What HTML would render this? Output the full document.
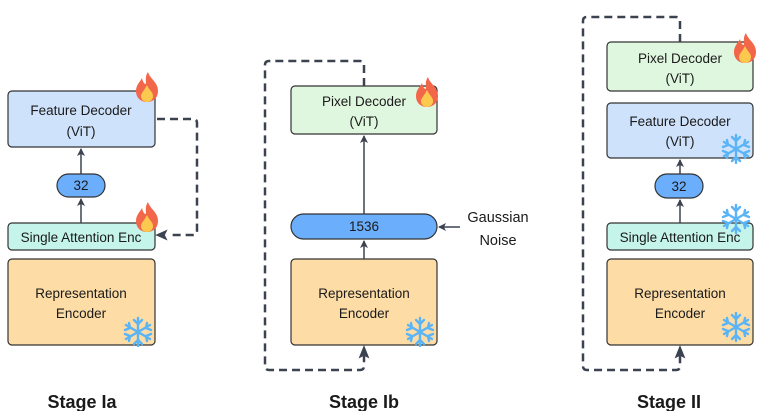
<!DOCTYPE html>
<html><head><meta charset="utf-8"><style>
body{margin:0;background:#fff}
svg{display:block}
text{font-family:"Liberation Sans",sans-serif;fill:#1a1a1a;font-size:13.5px;text-anchor:middle}
.b{stroke:#333;stroke-width:1.2}
.d{fill:none;stroke:#3c4350;stroke-width:2.5;stroke-dasharray:8 5}
.l{stroke:#3c4350;stroke-width:1.5;fill:none}
</style></head><body>
<svg width="767" height="411" viewBox="0 0 767 411">
<defs>
<marker id="a" markerWidth="8" markerHeight="8" refX="7" refY="4" orient="auto" markerUnits="userSpaceOnUse"><path d="M0,0 L8,4 L0,8 L2,4Z" fill="#3c4350"/></marker>
<g id="fire"><path d="M12,0 C14,7 22,10 22,19 C22,26 17,30 11,30 C5,30 0,26 0,19 C0,13 4,10 6,6 C7,10 8,12 10,12 C10,8 9,4 12,0Z" fill="#f2664a"/><path d="M11,13 C13,18 17,20 17,24 C17,28 14,30 11,30 C8,30 5,28 5,24 C5,21 8,19 11,13Z" fill="#fcc94e"/></g>
<g id="snow" stroke="#5ab4f5" stroke-width="2.4" stroke-linecap="round" fill="none"><path d="M16,2V30M4,9L28,23M4,23L28,9"/><path d="M12,4L16,8L20,4M12,28L16,24L20,28M3,14L8,12L7,7M29,18L24,20L25,25M3,18L8,20L7,25M29,14L24,12L25,7"/></g>
</defs>
<!-- Stage Ia -->
<rect class="b" x="8" y="91" width="147" height="56" rx="4" fill="#cfe2fb"/>
<text x="81" y="115">Feature Decoder</text><text x="81" y="136">(ViT)</text>
<rect class="b" x="57" y="174" width="48" height="23" rx="11.5" fill="#6aaefc"/><text x="81" y="190">32</text>
<rect class="b" x="8" y="223" width="147" height="27" rx="4" fill="#c5f4ea"/><text x="81" y="242">Single Attention Enc</text>
<rect class="b" x="8" y="259" width="147" height="86" rx="4" fill="#fddca5"/>
<text x="81" y="298">Representation</text><text x="81" y="318">Encoder</text>
<line class="l" x1="81" y1="174" x2="81" y2="149" marker-end="url(#a)"/>
<line class="l" x1="81" y1="223" x2="81" y2="199" marker-end="url(#a)"/>
<path class="d" d="M157,119 H193 Q197,119 197,123 V231 Q197,235 193,235 H170"/>
<path d="M157,235 L166,231 L164,235 L166,239Z" fill="#3c4350" stroke="#3c4350" stroke-width="1.5"/>
<use href="#fire" x="136" y="72"/><use href="#fire" x="136" y="202"/><use href="#snow" x="122" y="316"/>
<text x="82" y="408" style="font-weight:bold;font-size:18px">Stage Ia</text>
<!-- Stage Ib -->
<rect class="b" x="291" y="86" width="146" height="48" rx="4" fill="#e0f7df"/>
<text x="364" y="106">Pixel Decoder</text><text x="364" y="126">(ViT)</text>
<rect class="b" x="291" y="214" width="146" height="25" rx="12.5" fill="#6aaefc"/><text x="364" y="231">1536</text>
<rect class="b" x="291" y="259" width="146" height="86" rx="4" fill="#fddca5"/>
<text x="364" y="298">Representation</text><text x="364" y="318">Encoder</text>
<line class="l" x1="364" y1="214" x2="364" y2="136" marker-end="url(#a)"/>
<line class="l" x1="364" y1="259" x2="364" y2="241" marker-end="url(#a)"/>
<line class="l" x1="460" y1="227" x2="439" y2="227" marker-end="url(#a)"/>
<text x="498" y="222" style="font-size:14.5px">Gaussian</text><text x="498" y="245" style="font-size:14.5px">Noise</text>
<path class="d" d="M364,86 V65 Q364,61 360,61 H269 Q265,61 265,65 V366 Q265,370 269,370 H360 Q364,370 364,366 V356"/>
<path d="M364,347 L368,357 L364,355 L360,357Z" fill="#3c4350" stroke="#3c4350" stroke-width="1.5"/>
<use href="#fire" x="416" y="77"/><use href="#snow" x="404" y="316"/>
<text x="364" y="408" style="font-weight:bold;font-size:18px">Stage Ib</text>
<!-- Stage II -->
<rect class="b" x="607" y="42" width="146" height="49" rx="4" fill="#e0f7df"/>
<text x="680" y="63">Pixel Decoder</text><text x="680" y="83">(ViT)</text>
<rect class="b" x="607" y="103" width="146" height="55" rx="4" fill="#cfe2fb"/>
<text x="680" y="126">Feature Decoder</text><text x="680" y="146">(ViT)</text>
<rect class="b" x="655" y="174" width="48" height="24" rx="12" fill="#6aaefc"/><text x="679" y="191">32</text>
<rect class="b" x="607" y="223" width="146" height="27" rx="4" fill="#c5f4ea"/><text x="680" y="242">Single Attention Enc</text>
<rect class="b" x="607" y="259" width="146" height="86" rx="4" fill="#fddca5"/>
<text x="680" y="298">Representation</text><text x="680" y="318">Encoder</text>
<line class="l" x1="680" y1="174" x2="680" y2="160" marker-end="url(#a)"/>
<line class="l" x1="680" y1="223" x2="680" y2="200" marker-end="url(#a)"/>
<path class="d" d="M680,42 V21 Q680,17 676,17 H587 Q583,17 583,21 V366 Q583,370 587,370 H676 Q680,370 680,366 V356"/>
<path d="M680,347 L684,357 L680,355 L676,357Z" fill="#3c4350" stroke="#3c4350" stroke-width="1.5"/>
<use href="#fire" x="734" y="33"/><use href="#snow" x="720" y="133"/><use href="#snow" x="720" y="203"/><use href="#snow" x="720" y="311"/>
<text x="669" y="408" style="font-weight:bold;font-size:18px">Stage II</text>
</svg>
</body></html>
